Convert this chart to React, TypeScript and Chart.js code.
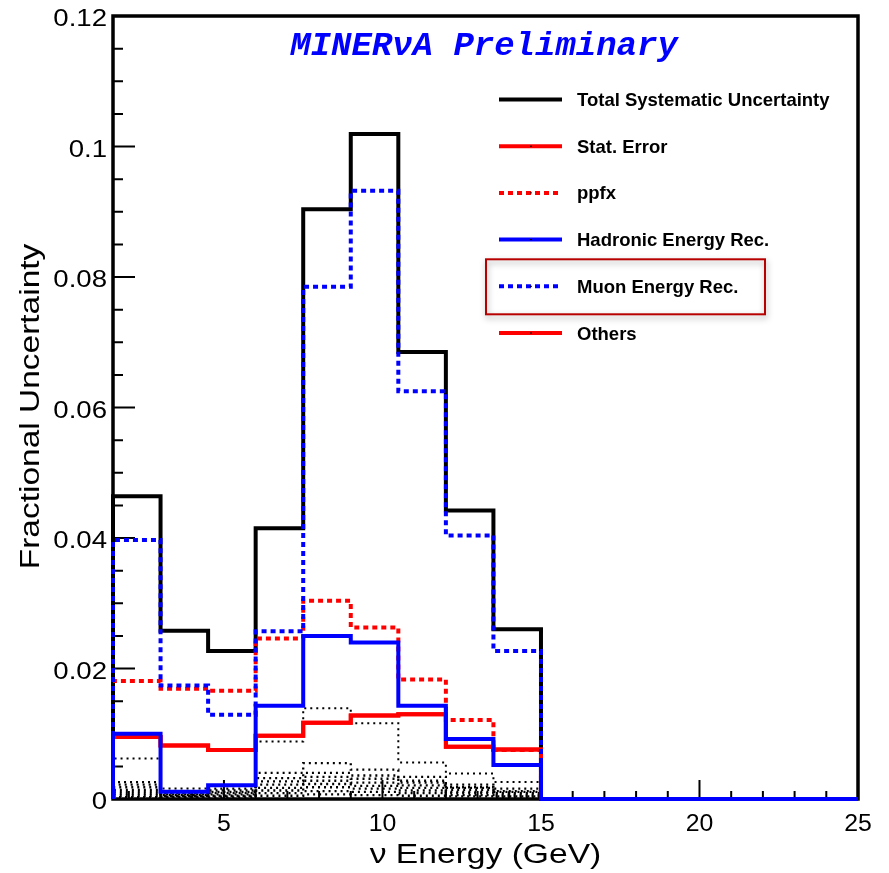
import React, { useEffect, useRef } from 'react';
import { Chart, registerables } from 'chart.js';

Chart.register(...registerables);

// Binning and axis ranges
const binEdges = [1.5, 3, 4.5, 6, 7.5, 9, 10.5, 12, 13.5, 15];
const xMin = 1.5;
const xMax = 25;
const yMin = 0;
const yMax = 0.12;

// Axis ticks
const xMajorTicks = [5, 10, 15, 20, 25];
const xTickLabels = ['5', '10', '15', '20', '25'];
const xMinorStep = 1;
const yMajorTicks = [0, 0.02, 0.04, 0.06, 0.08, 0.1, 0.12];
const yTickLabels = ['0', '0.02', '0.04', '0.06', '0.08', '0.1', '0.12'];
const yMinorStep = 0.005;

const xTitle = '\u03bd Energy (GeV)';
const yTitle = 'Fractional Uncertainty';
const banner = 'MINER\u03bdA Preliminary';
const highlightedEntry = 'Muon Energy Rec.';

// Fractional uncertainty per bin
const totalSyst = [0.0464, 0.0258, 0.0227, 0.0415, 0.0904, 0.1019, 0.0685, 0.0442, 0.026];
const statError = [0.0095, 0.0082, 0.0075, 0.0097, 0.0117, 0.0128, 0.013, 0.008, 0.0076];
const ppfx = [0.0181, 0.0169, 0.0166, 0.0246, 0.0304, 0.0263, 0.0183, 0.0121, 0.0075];
const hadronicEnergy = [0.01, 0.0011, 0.0021, 0.0143, 0.025, 0.024, 0.0143, 0.0092, 0.0052];
const muonEnergy = [0.0397, 0.0174, 0.0129, 0.0257, 0.0785, 0.0932, 0.0625, 0.0404, 0.0227];
const othersError = [0.0095, 0.0082, 0.0075, 0.0097, 0.0117, 0.0128, 0.013, 0.008, 0.0076];

// Individual minor systematics (not in the legend)
const minorSyst1 = [0.0062, 0.0016, 0.002, 0.0088, 0.0139, 0.0116, 0.0056, 0.0039, 0.0026];
const minorSyst2 = [0.0026, 0.0012, 0.0016, 0.004, 0.0055, 0.0045, 0.0034, 0.0017, 0.0012];
const minorSyst3 = [0.0022, 0.0009, 0.0013, 0.0032, 0.004, 0.0036, 0.0028, 0.0022, 0.0016];
const minorSyst4 = [0.0018, 0.0007, 0.0011, 0.0027, 0.0034, 0.0031, 0.0025, 0.0018, 0.0011];
const minorSyst5 = [0.0014, 0.0006, 0.0009, 0.0022, 0.0028, 0.0025, 0.0021, 0.0014, 0.0009];
const minorSyst6 = [0.0011, 0.0005, 0.0007, 0.0017, 0.0023, 0.002, 0.0017, 0.0011, 0.0007];
const minorSyst7 = [0.0008, 0.0004, 0.0005, 0.0013, 0.0018, 0.0016, 0.0013, 0.0009, 0.0005];
const minorSyst8 = [0.0005, 0.0003, 0.0004, 0.0009, 0.0012, 0.0011, 0.0009, 0.0006, 0.0004];
const minorSyst9 = [0.0003, 0.0002, 0.0002, 0.0005, 0.0007, 0.0006, 0.0005, 0.0004, 0.0002];

const SANS = "'Liberation Sans', Arial, Helvetica, sans-serif";
const MONO = "'Liberation Mono', 'Courier New', monospace";

// Histogram outline: rises at the first edge, holds each bin value, drops after the last bin
function histPoints(values: number[]) {
  const pts: { x: number; y: number }[] = [{ x: binEdges[0], y: 0 }];
  values.forEach((v, i) => pts.push({ x: binEdges[i], y: v }));
  pts.push({ x: binEdges[binEdges.length - 1], y: 0 });
  pts.push({ x: xMax, y: 0 });
  return pts;
}

function histDataset(label: string, values: number[], color: string, width: number, dash: number[], order: number, inLegend: boolean, dashOffset = 0) {
  return {
    label,
    data: histPoints(values),
    borderColor: color,
    backgroundColor: color,
    borderWidth: width,
    borderDash: dash,
    borderDashOffset: dashOffset,
    stepped: true,
    pointRadius: 0,
    fill: false,
    clip: false,
    order,
    inLegend,
  } as any;
}

function drawStretched(ctx: CanvasRenderingContext2D, text: string, x: number, y: number, sx: number, align: CanvasTextAlign, angle = 0) {
  ctx.save();
  ctx.translate(x, y);
  if (angle) ctx.rotate(angle);
  ctx.scale(sx, 1);
  ctx.textAlign = align;
  ctx.textBaseline = 'alphabetic';
  ctx.fillText(text, 0, 0);
  ctx.restore();
}

const histDecor = {
  id: 'histDecor',
  beforeDatasetsDraw(chart: any) {
    const { ctx, chartArea: a, scales } = chart;
    const xs = scales.x;
    const ys = scales.y;
    ctx.save();
    ctx.strokeStyle = '#000';
    ctx.lineWidth = 3.5;
    ctx.strokeRect(a.left, a.top, a.right - a.left, a.bottom - a.top);

    ctx.lineWidth = 2;
    ctx.beginPath();
    const nY = Math.round((yMax - yMin) / yMinorStep);
    for (let i = 1; i < nY; i++) {
      const v = yMin + i * yMinorStep;
      const major = yMajorTicks.some((t) => Math.abs(t - v) < 1e-9);
      const py = ys.getPixelForValue(v);
      ctx.moveTo(a.left, py);
      ctx.lineTo(a.left + (major ? 22 : 10), py);
    }
    for (let v = Math.ceil(xMin); v < xMax; v += xMinorStep) {
      const major = xMajorTicks.includes(v);
      const px = xs.getPixelForValue(v);
      ctx.moveTo(px, a.bottom);
      ctx.lineTo(px, a.bottom - (major ? 19 : 8));
    }
    ctx.stroke();
    ctx.restore();
  },
  afterDraw(chart: any) {
    const { ctx, chartArea: a, scales } = chart;
    const xs = scales.x;
    const ys = scales.y;
    ctx.save();
    ctx.fillStyle = '#000';

    // Tick labels
    ctx.font = `24px ${SANS}`;
    yMajorTicks.forEach((v, i) => {
      drawStretched(ctx, yTickLabels[i], 107, ys.getPixelForValue(v) + 10, 1.15, 'right');
    });
    ctx.font = `23px ${SANS}`;
    xMajorTicks.forEach((v, i) => {
      drawStretched(ctx, xTickLabels[i], xs.getPixelForValue(v), 831, 1.08, 'center');
    });

    // Axis titles
    ctx.font = `28px ${SANS}`;
    drawStretched(ctx, xTitle, (a.left + a.right) / 2, 863, 1.2, 'center');
    ctx.font = `27px ${SANS}`;
    drawStretched(ctx, yTitle, 39, (a.top + a.bottom) / 2 - 1, 1.24, 'center', -Math.PI / 2);

    // Banner
    ctx.fillStyle = '#0000ff';
    ctx.font = `italic bold 34px ${MONO}`;
    ctx.textAlign = 'center';
    ctx.textBaseline = 'alphabetic';
    ctx.fillText(banner, 484, 55);

    // Legend
    const entries = chart.data.datasets.filter((d: any) => d.inLegend);
    const rowY0 = 99.5;
    const rowStep = 46.7;
    entries.forEach((d: any, i: number) => {
      const yRow = rowY0 + i * rowStep;
      ctx.save();
      ctx.strokeStyle = d.borderColor;
      ctx.lineWidth = d.borderWidth;
      ctx.setLineDash(d.borderDash || []);
      ctx.beginPath();
      ctx.moveTo(499, yRow);
      ctx.lineTo(562, yRow);
      ctx.stroke();
      ctx.restore();
      ctx.fillStyle = '#000';
      ctx.fillRect(530, yRow - 0.5, 2, 1);
      ctx.font = `bold 18.5px ${SANS}`;
      ctx.textAlign = 'left';
      ctx.fillText(d.label, 577, yRow + 6.5);
    });

    // Highlight box around one legend entry
    const hi = entries.findIndex((d: any) => d.label === highlightedEntry);
    if (hi >= 0) {
      const cy = rowY0 + hi * rowStep;
      ctx.save();
      ctx.shadowColor = 'rgba(0,0,0,0.35)';
      ctx.shadowBlur = 6;
      ctx.shadowOffsetX = 1;
      ctx.shadowOffsetY = 3;
      ctx.strokeStyle = '#b80000';
      ctx.lineWidth = 2;
      ctx.strokeRect(486, cy - 27, 279, 55);
      ctx.restore();
    }
    ctx.restore();
  },
};

export default function App() {
  const canvasRef = useRef<HTMLCanvasElement | null>(null);

  useEffect(() => {
    const canvas = canvasRef.current;
    if (!canvas) return;
    const dotted = [2, 4];
    const dashed = [5, 4];
    const minor = [minorSyst1, minorSyst2, minorSyst3, minorSyst4, minorSyst5, minorSyst6, minorSyst7, minorSyst8, minorSyst9];
    const datasets = [
      histDataset('Total Systematic Uncertainty', totalSyst, '#000000', 4, [], 5, true),
      histDataset('Stat. Error', statError, '#ff0000', 4, [], 2, true),
      histDataset('ppfx', ppfx, '#ff0000', 4, dashed, 4, true),
      histDataset('Hadronic Energy Rec.', hadronicEnergy, '#0000ff', 4, [], 0, true),
      histDataset('Muon Energy Rec.', muonEnergy, '#0000ff', 4, dashed, 1, true),
      histDataset('Others', othersError, '#ff0000', 4, [], 3, true),
      ...minor.map((vals, i) =>
        histDataset(`syst ${i + 1}`, vals, '#000000', i === 0 ? 2 : 2.3, dotted, 6 + i, false, (i * 2) % 6)
      ),
    ];

    const chart = new Chart(canvas, {
      type: 'line',
      data: { datasets },
      options: {
        animation: false,
        responsive: false,
        maintainAspectRatio: false,
        devicePixelRatio: 1,
        layout: { padding: { left: 113, top: 16, right: 31, bottom: 74 } },
        scales: {
          x: { type: 'linear', min: xMin, max: xMax, display: false },
          y: { type: 'linear', min: yMin, max: yMax, display: false },
        },
        plugins: {
          legend: { display: false },
          tooltip: { enabled: false },
        },
        elements: { point: { radius: 0 }, line: { tension: 0 } },
      },
      plugins: [histDecor],
    } as any);

    return () => chart.destroy();
  }, []);

  return (
    <div style={{ position: 'absolute', left: 0, top: 0, width: 889, height: 873, background: '#fff' }}>
      <canvas ref={canvasRef} width={889} height={873} style={{ width: 889, height: 873, display: 'block' }} />
    </div>
  );
}
